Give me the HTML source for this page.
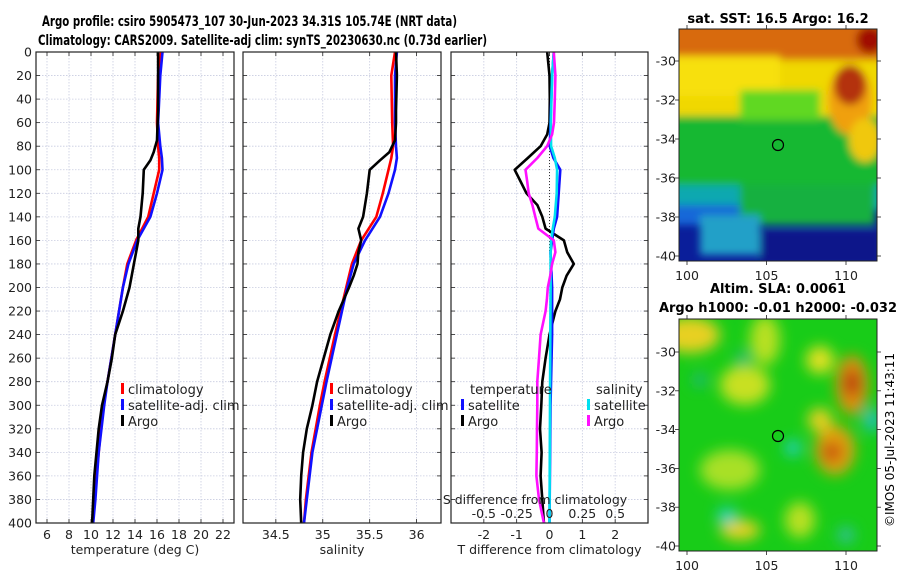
<!DOCTYPE html>
<html><head><meta charset="utf-8">
<style>
html,body{margin:0;padding:0;background:#fff;}
svg{display:block;font-family:"DejaVu Sans","Liberation Sans",sans-serif;}
</style></head>
<body>
<svg id="fig" width="900" height="580" viewBox="0 0 900 580" xmlns="http://www.w3.org/2000/svg">
<defs>
<filter id="blur1" x="-10%" y="-10%" width="120%" height="120%"><feGaussianBlur stdDeviation="4"/></filter>
<filter id="blur2" x="-20%" y="-20%" width="140%" height="140%"><feGaussianBlur stdDeviation="7"/></filter>
<clipPath id="cm1"><rect x="679" y="29" width="198" height="232"/></clipPath>
<clipPath id="cm2"><rect x="679" y="319" width="198" height="232"/></clipPath>
</defs>
<text x="42" y="26" font-size="14.5" font-weight="bold" textLength="415" lengthAdjust="spacingAndGlyphs">Argo profile: csiro 5905473_107 30-Jun-2023 34.31S 105.74E (NRT data)</text>
<text x="38" y="45" font-size="14.5" font-weight="bold" textLength="449" lengthAdjust="spacingAndGlyphs">Climatology: CARS2009. Satellite-adj clim: synTS_20230630.nc (0.73d earlier)</text>

<!-- SST map -->
<g>
<text x="778" y="23" font-size="13" font-weight="bold" text-anchor="middle">sat. SST: 16.5 Argo: 16.2</text>
<g clip-path="url(#cm1)">
<rect x="679" y="29" width="198" height="232" fill="#0a1e9a"/>
<g filter="url(#blur1)">
<rect x="660" y="10" width="240" height="50" fill="#d86a08"/>
<rect x="660" y="60" width="240" height="58" fill="#f0d800"/>
<rect x="660" y="56" width="120" height="40" fill="#f7e010"/>
<rect x="660" y="116" width="240" height="76" fill="#18b830"/>
<rect x="740" y="90" width="80" height="30" fill="#60d820"/>
<rect x="660" y="185" width="240" height="25" fill="#10a8b0"/>
<rect x="740" y="185" width="135" height="40" fill="#18b040"/>
<rect x="660" y="205" width="80" height="20" fill="#1868d8"/>
<rect x="700" y="215" width="60" height="40" fill="#20a0c8"/>
<rect x="760" y="230" width="120" height="35" fill="#08128a"/>
<ellipse cx="850" cy="100" rx="22" ry="35" fill="#f0a010"/>
<ellipse cx="850" cy="85" rx="16" ry="20" fill="#b43008"/>
<ellipse cx="870" cy="40" rx="14" ry="14" fill="#a01000"/>
<ellipse cx="865" cy="140" rx="16" ry="22" fill="#f0c810"/>
</g>
</g>
<rect x="679" y="29" width="198" height="232" fill="none" stroke="#222" stroke-width="1"/>
<circle cx="778" cy="145" r="5.5" fill="none" stroke="#000" stroke-width="1.2"/>
<g id="m1ticks"></g>
</g>

<!-- SLA map -->
<g>
<text x="778" y="293" font-size="13" font-weight="bold" text-anchor="middle">Altim. SLA: 0.0061</text>
<text x="778" y="312" font-size="13" font-weight="bold" text-anchor="middle">Argo h1000: -0.01 h2000: -0.032</text>
<g clip-path="url(#cm2)">
<rect x="679" y="319" width="198" height="232" fill="#18cc18"/>
<g filter="url(#blur2)">
<ellipse cx="690" cy="335" rx="30" ry="18" fill="#e8d020"/>
<ellipse cx="745" cy="385" rx="25" ry="20" fill="#c8e020"/>
<ellipse cx="765" cy="340" rx="15" ry="25" fill="#b8e020"/>
<ellipse cx="820" cy="360" rx="14" ry="14" fill="#e0e020"/>
<ellipse cx="852" cy="385" rx="16" ry="30" fill="#e09010"/>
<ellipse cx="852" cy="383" rx="8" ry="14" fill="#b83008"/>
<ellipse cx="835" cy="450" rx="20" ry="25" fill="#e0a010"/>
<ellipse cx="832" cy="452" rx="10" ry="10" fill="#c85010"/>
<ellipse cx="820" cy="420" rx="12" ry="12" fill="#e8d020"/>
<ellipse cx="730" cy="470" rx="30" ry="20" fill="#a8e028"/>
<ellipse cx="740" cy="530" rx="20" ry="10" fill="#e8d020"/>
<ellipse cx="800" cy="520" rx="15" ry="18" fill="#b8e020"/>
<ellipse cx="727" cy="516" rx="10" ry="8" fill="#20d0c8"/>
<ellipse cx="793" cy="448" rx="8" ry="8" fill="#20d0c8"/>
<ellipse cx="872" cy="420" rx="8" ry="12" fill="#20c0c0"/>
<ellipse cx="846" cy="535" rx="8" ry="8" fill="#30c0a8"/>
<ellipse cx="700" cy="380" rx="6" ry="6" fill="#20b0a0"/>
<ellipse cx="743" cy="358" rx="6" ry="6" fill="#20b0a0"/>
</g>
</g>
<rect x="679" y="319" width="198" height="232" fill="none" stroke="#222" stroke-width="1"/>
<circle cx="778" cy="436" r="5.5" fill="none" stroke="#000" stroke-width="1.2"/>
<g id="m2ticks"></g>
</g>
<text transform="translate(894,440) rotate(-90)" font-size="12" text-anchor="middle">©IMOS 05-Jul-2023 11:43:11</text>

<g id="panels"></g>
</svg>
<script>
// ---- data ----
var depthT = [0,20,60,80,90,100,120,140,160,180,200,240,280,300,340,380,400];
var climT  = [16.36,16.1,16.0,16.1,16.2,16.2,15.7,15.2,14.1,13.3,12.9,12.2,11.5,11.1,10.7,10.3,10.1];
var satT   = [16.5,16.3,16.1,16.3,16.45,16.5,16.0,15.4,14.2,13.4,12.9,12.2,11.5,11.2,10.7,10.4,10.2];
var climS  = [35.77,35.73,35.74,35.75,35.73,35.70,35.64,35.57,35.41,35.31,35.25,35.13,35.02,34.97,34.88,34.82,34.80];
var satS   = [35.79,35.77,35.77,35.78,35.79,35.77,35.70,35.61,35.45,35.33,35.26,35.15,35.04,34.99,34.89,34.83,34.80];
var depthA = [0,20,50,60,75,85,92,100,120,140,150,160,170,180,190,200,220,240,260,280,300,320,340,360,380,400];
var argoT  = [16.1,16.1,16.1,16.05,16.0,15.7,15.4,14.8,14.7,14.5,14.3,14.3,14.1,13.9,13.7,13.5,12.9,12.2,11.9,11.5,11.0,10.7,10.5,10.3,10.2,10.1];
var argoS  = [35.78,35.79,35.78,35.78,35.77,35.71,35.61,35.50,35.47,35.43,35.38,35.41,35.38,35.37,35.33,35.28,35.17,35.08,35.01,34.94,34.89,34.83,34.79,34.77,34.76,34.77];
var depthD = [0,20,40,60,70,80,90,100,110,120,130,140,150,160,170,180,190,200,210,220,240,260,280,300,320,340,360,380,400];
var argoTdiff = [-0.07,0,0.01,0,-0.07,-0.27,-0.66,-1.06,-0.88,-0.7,-0.37,-0.22,-0.12,0.44,0.54,0.74,0.52,0.39,0.32,0.18,0,-0.12,-0.22,-0.25,-0.29,-0.24,-0.27,-0.22,-0.17];
var argoSdiff = [0.033,0.045,0.04,0.034,0.02,-0.018,-0.093,-0.183,-0.17,-0.158,-0.13,-0.108,-0.085,0.033,0.045,0.02,0.005,-0.013,-0.02,-0.03,-0.068,-0.08,-0.093,-0.093,-0.095,-0.097,-0.1,-0.08,-0.043];
var depthSD = [0,20,60,80,90,100,120,140,150,160,170,200,240,300,400];
var satTdiff = [0.13,0.08,0.03,0.01,0.12,0.33,0.28,0.23,0.13,0.08,0.03,0.08,0.08,0.03,0];
var satSdiff = [0.033,0.02,0.01,0.012,0.04,0.058,0.055,0.04,0.025,0.012,0.008,0.008,0.006,0.004,0];
var depthTicks = [0,20,40,60,80,100,120,140,160,180,200,220,240,260,280,300,320,340,360,380,400];
var tTicks = [6,8,10,12,14,16,18,20,22];
var sTicks = [34.5,35,35.5,36];
var dTicks = [-2,-1,0,1,2];
var sdTicks = [-0.5,-0.25,0,0.25,0.5];
var sdTickLabels = ["-0.5","-0.25","0","0.25","0.5"];
var lat1Ticks = [-30,-32,-34,-36,-38,-40];
var lonTicks = [100,105,110];

var NS = "http://www.w3.org/2000/svg";
var root = document.getElementById('panels');
function el(tag, attrs, parent, txt){
  var e = document.createElementNS(NS, tag);
  for (var k in attrs) e.setAttribute(k, attrs[k]);
  if (txt !== undefined) e.textContent = txt;
  (parent||root).appendChild(e);
  return e;
}
var top0 = 52, bot0 = 523;
function yD(d){ return top0 + d*(bot0-top0)/400; }
function mkX(x0,x1,v0,v1){ return function(v){ return x0 + (v-v0)*(x1-x0)/(v1-v0); }; }

var panels = [
  {x0:36,x1:234,v0:5,v1:23,ticks:tTicks,name:'temperature-panel',title:'temperature (deg C)'},
  {x0:243,x1:441,v0:34.15,v1:36.26,ticks:sTicks,name:'salinity-panel',title:'salinity'},
  {x0:451,x1:648,v0:-3,v1:3,ticks:dTicks,name:'difference-panel',title:'T difference from climatology'}
];
panels.forEach(function(p,i){
  p.sx = mkX(p.x0,p.x1,p.v0,p.v1);
  var g = el('g',{});
  
  
  p.g = g;
  depthTicks.forEach(function(d){
    var gl = el('line',{x1:p.x0,x2:p.x1,y1:yD(d),y2:yD(d),stroke:'#c8cce0','stroke-width':0.8,'stroke-dasharray':'1.5,1.5'},g);
    
    
    el('line',{x1:p.x0,x2:p.x0+4,y1:yD(d),y2:yD(d),stroke:'#222','stroke-width':0.8},g);
    el('line',{x1:p.x1-4,x2:p.x1,y1:yD(d),y2:yD(d),stroke:'#222','stroke-width':0.8},g);
  });
  p.ticks.forEach(function(v){
    var x = p.sx(v);
    var gl = el('line',{x1:x,x2:x,y1:top0,y2:bot0,stroke:'#c8cce0','stroke-width':0.8,'stroke-dasharray':'1.5,1.5'},g);
    
    
    el('line',{x1:x,x2:x,y1:bot0,y2:bot0-4,stroke:'#222','stroke-width':0.8},g);
    el('line',{x1:x,x2:x,y1:top0,y2:top0+4,stroke:'#222','stroke-width':0.8},g);
    var tl = el('text',{x:x,y:539,'font-size':12.5,'text-anchor':'middle',fill:'#222'},g,String(v));
    
    
  });
  var at = el('text',{x:(p.x0+p.x1)/2,y:554,'font-size':12.5,'text-anchor':'middle',fill:'#222'},g,p.title);
  
  
});
depthTicks.forEach(function(d){
  var t = el('text',{x:32,y:yD(d)+4.5,'font-size':12.5,'text-anchor':'end',fill:'#222'},root,String(d));
  
  
});

function line(p, depths, vals, color, name, scale){
  var pts = depths.map(function(d,i){ return p.sx(vals[i]*(scale||1)).toFixed(1)+','+yD(d).toFixed(1); }).join(' ');
  var l = el('polyline',{points:pts,fill:'none',stroke:color,'stroke-width':2.6,'stroke-linejoin':'round'},p.g);
  
  
}
var P=panels;
var zl = el('line',{x1:P[2].sx(0),x2:P[2].sx(0),y1:top0,y2:yD(170),stroke:'#333','stroke-width':1,'stroke-dasharray':'1,2'},P[2].g);


line(P[0],depthT,climT,'#ff0000','climatology-temperature-line');
line(P[0],depthT,satT,'#1010ff','satellite-temperature-line');
line(P[0],depthA,argoT,'#000','argo-temperature-line');
line(P[1],depthT,climS,'#ff0000','climatology-salinity-line');
line(P[1],depthT,satS,'#1010ff','satellite-salinity-line');
line(P[1],depthA,argoS,'#000','argo-salinity-line');
line(P[2],depthD,argoTdiff,'#000','argo-temperature-diff-line');
line(P[2],depthSD,satTdiff,'#1010ff','satellite-temperature-diff-line');
line(P[2],depthSD,satSdiff,'#00e0f0','satellite-salinity-diff-line',4);
line(P[2],depthD,argoSdiff,'#ff10ff','argo-salinity-diff-line',4);

panels.forEach(function(p){
  var f = el('rect',{x:p.x0,y:top0,width:p.x1-p.x0,height:bot0-top0,fill:'none',stroke:'#222','stroke-width':1.2},p.g);
  
  
});

var sdl = el('text',{x:535,y:504,'font-size':12.5,'text-anchor':'middle',fill:'#222'},root,'S difference from climatology');


sdTicks.forEach(function(v,i){
  var t = el('text',{x:P[2].sx(v*4),y:518,'font-size':12.5,'text-anchor':'middle',fill:'#222'},root,sdTickLabels[i]);
  
  
});

function legend(x,y,color,label,name){
  var g = el('g',{});
  
  
  el('rect',{x:x,y:y-6,width:3,height:11,fill:color},g);
  el('text',{x:x+7,y:y+5,'font-size':13,fill:'#222'},g,label);
}
legend(121,389,'#ff0000','climatology','legend-climatology-t');
legend(121,405,'#1010ff','satellite-adj. clim','legend-satellite-t');
legend(121,421,'#000','Argo','legend-argo-t');
legend(330,389,'#ff0000','climatology','legend-climatology-s');
legend(330,405,'#1010ff','satellite-adj. clim','legend-satellite-s');
legend(330,421,'#000','Argo','legend-argo-s');
var lt = el('text',{x:470,y:394,'font-size':13,fill:'#222'},root,'temperature');


var ls = el('text',{x:596,y:394,'font-size':13,fill:'#222'},root,'salinity');


legend(461,405,'#1010ff','satellite','legend-satellite-tdiff');
legend(461,421,'#000','Argo','legend-argo-tdiff');
legend(587,405,'#00e0f0','satellite','legend-satellite-sdiff');
legend(587,421,'#ff10ff','Argo','legend-argo-sdiff');

function mapTicks(gid, yTop, yBot, lat30y, lat40y, lonY){
  var g = document.getElementById(gid);
  lat1Ticks.forEach(function(v){
    var y = lat30y + (-30 - v)*(lat40y-lat30y)/10;
    var t = el('text',{x:676,y:y+4.5,'font-size':12.5,'text-anchor':'end',fill:'#222'},g,String(v));
    
    
    el('line',{x1:877,x2:881,y1:y,y2:y,stroke:'#222','stroke-width':0.8},g);
    el('line',{x1:675,x2:679,y1:y,y2:y,stroke:'#222','stroke-width':0.8},g);
  });
  lonTicks.forEach(function(v){
    var x = 687 + (v-100)*15.9;
    var t = el('text',{x:x,y:lonY,'font-size':12.5,'text-anchor':'middle',fill:'#222'},g,String(v));
    
    
    el('line',{x1:x,x2:x,y1:yBot,y2:yBot+4,stroke:'#222','stroke-width':0.8},g);
    el('line',{x1:x,x2:x,y1:yTop-4,y2:yTop,stroke:'#222','stroke-width':0.8},g);
  });
}
mapTicks('m1ticks',29,261,61,256,280);
mapTicks('m2ticks',319,551,352,546,570);
</script>
</body></html>
